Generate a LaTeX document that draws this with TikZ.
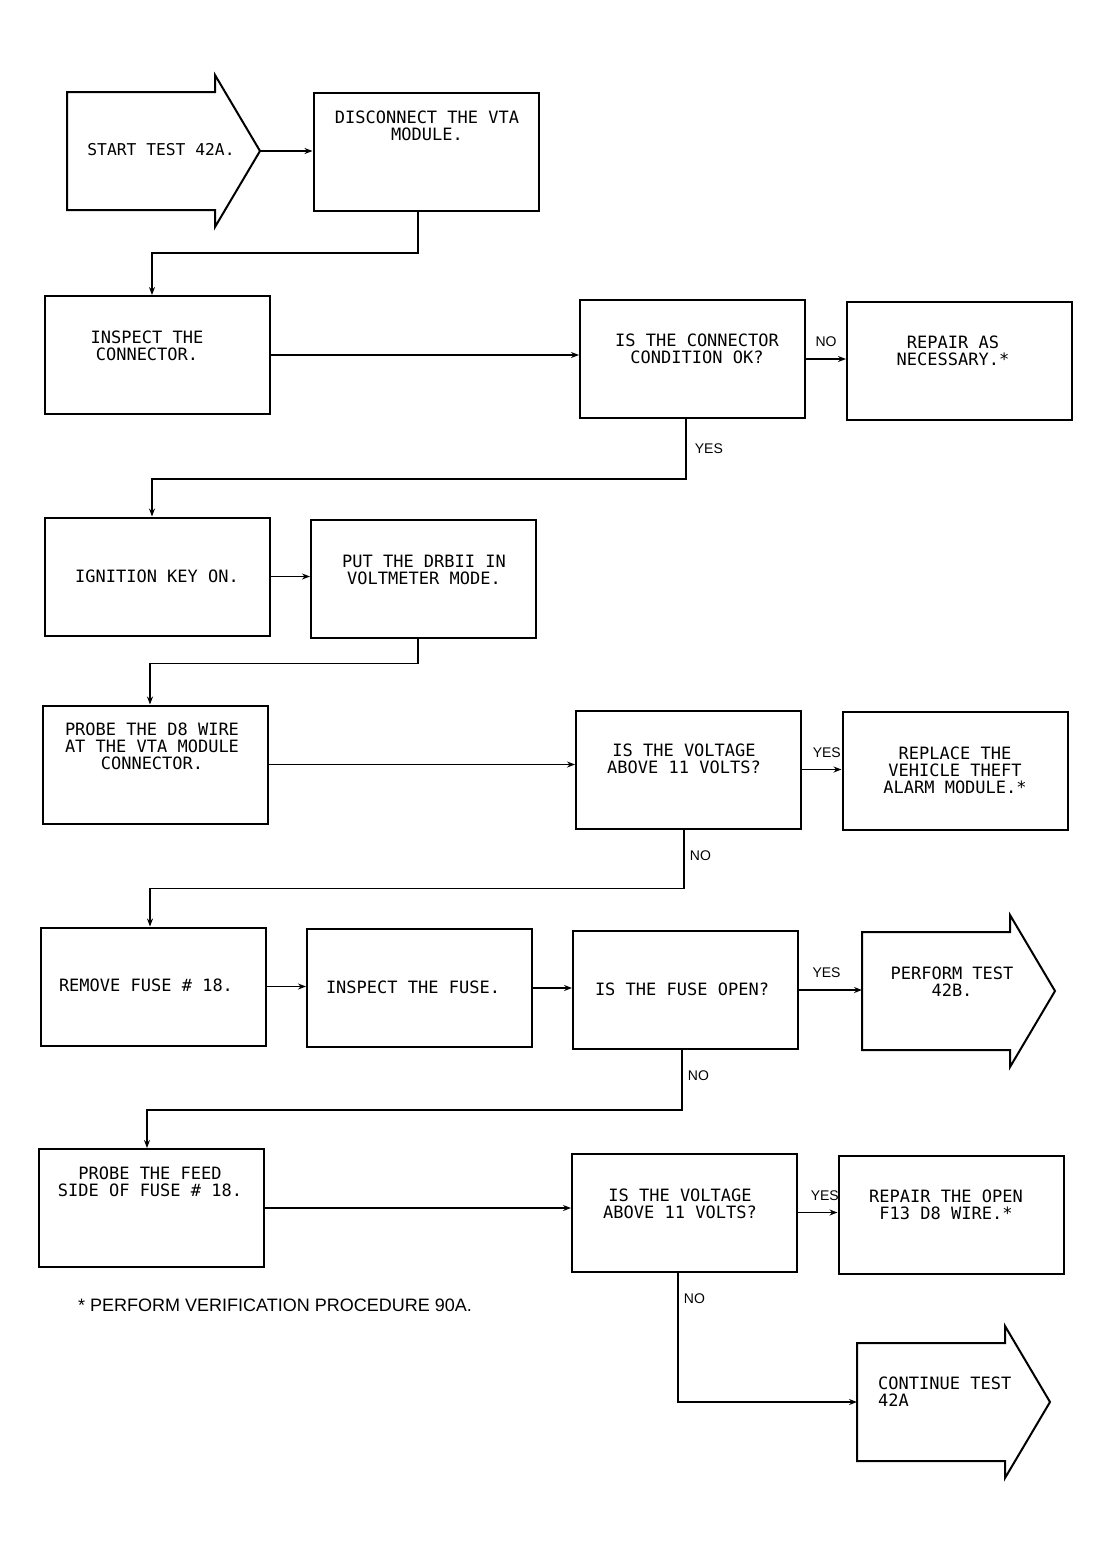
\documentclass[tikz,border=0pt]{standalone}
\usepackage{fontspec}
\setmainfont{Liberation Sans}
\setmonofont{DejaVu Sans Mono}
\usetikzlibrary{arrows.meta}

\begin{document}
\begin{tikzpicture}[x=1pt,y=-1pt,
		box/.style={draw,line width=2pt,minimum width=225pt,minimum height=118pt},
		txt/.style={font=\fontsize{17}{17}\ttfamily,align=center,inner sep=0pt},
		lbl/.style={font=\fontsize{14}{14}\selectfont,inner sep=0pt},
		conn/.style={line width=1.8pt,-{Stealth[length=8pt,width=6pt]}},
		bigarrow/.style={draw,line width=2pt,line join=miter}]
			\useasboundingbox (0,0) rectangle (1110,1555);
			%Big arrows
			\foreach \n/\x/\y in {start/67/151,perf/862/991,cont/857/1402}
				{
					\draw[bigarrow] (\x,\y-59) -- ++(148,0) -- ++(0,-17) -- (\x+193,\y) -- (\x+148,\y+76) -- ++(0,-17) -- (\x,\y+59) -- cycle;
					\coordinate (\n-in) at (\x,\y);
					\coordinate (\n-tip) at (\x+193,\y);
				}
			\node[txt,font=\fontsize{16.3}{17}\ttfamily] (start-t) at (161,150) {START TEST 42A.};
			\node[txt] (perf-t) at (952,982) {PERFORM TEST\\42B.};
			\node[txt,align=left,anchor=west] (cont-t) at (878,1392) {CONTINUE TEST\\42A};
			%Boxes
			\node[box] (dis) at (426,152) {};
			\node[box] (insp) at (157.5,355) {};
			\node[box] (cond) at (692.5,359) {};
			\node[box] (rep) at (959.5,361) {};
			\node[box] (ign) at (157,576.5) {};
			\node[box] (drb) at (423.5,578.5) {};
			\node[box] (prb) at (155.5,764.5) {};
			\node[box] (volta) at (688.5,769.5) {};
			\node[box] (repl) at (955,770.5) {};
			\node[box] (rem) at (153.5,986.5) {};
			\node[box] (insf) at (419.5,988) {};
			\node[box] (open) at (685.5,990) {};
			\node[box] (feed) at (151,1208) {};
			\node[box] (voltb) at (684.5,1212.5) {};
			\node[box] (ropen) at (951,1214.5) {};
			%Box texts
			\node[txt] (dis-t) at (427,126) {DISCONNECT THE VTA\\MODULE.};
			\node[txt] (insp-t) at (147,346) {INSPECT THE\\CONNECTOR.};
			\node[txt] (cond-t) at (697,349) {IS THE CONNECTOR\\CONDITION OK?};
			\node[txt] (rep-t) at (953,351) {REPAIR AS\\NECESSARY.*};
			\node[txt] (ign-t) at (157,576) {IGNITION KEY ON.};
			\node[txt] (drb-t) at (424,570) {PUT THE DRBII IN\\VOLTMETER MODE.};
			\node[txt] (prb-t) at (152,746) {PROBE THE D8 WIRE\\AT THE VTA MODULE\\CONNECTOR.};
			\node[txt] (volta-t) at (684,759) {IS THE VOLTAGE\\ABOVE 11 VOLTS?};
			\node[txt] (repl-t) at (955,770) {REPLACE THE\\VEHICLE THEFT\\ALARM MODULE.*};
			\node[txt] (rem-t) at (146,985) {REMOVE FUSE \# 18.};
			\node[txt] (insf-t) at (413,987) {INSPECT THE FUSE.};
			\node[txt] (open-t) at (682,989) {IS THE FUSE OPEN?};
			\node[txt] (feed-t) at (150,1182) {PROBE THE FEED\\SIDE OF FUSE \# 18.};
			\node[txt] (voltb-t) at (680,1204) {IS THE VOLTAGE\\ABOVE 11 VOLTS?};
			\node[txt] (ropen-t) at (946,1205) {REPAIR THE OPEN\\F13 D8 WIRE.*};
			%Connectors
			\draw[conn] (start-tip) -- (start-tip -| dis.west);
			\draw[conn] ([xshift=-8pt]dis.south) -- ++(0,41) -| ([xshift=-5.5pt]insp.north);
			\draw[conn] (insp.east) -- (insp.east -| cond.west);
			\draw[conn] (cond.east) -- node[lbl,above=11pt] (no-a) {NO} (cond.east -| rep.west);
			\draw[conn] ([xshift=-6.5pt]cond.south) -- node[lbl,right=8pt] (yes-a) {YES} ++(0,60) -| ([xshift=-5pt]ign.north);
			\draw[conn] (ign.east) -- (ign.east -| drb.west);
			\draw[conn] ([xshift=-5.5pt]drb.south) -- ++(0,25) -| ([xshift=-5.5pt]prb.north);
			\draw[conn] (prb.east) -- (prb.east -| volta.west);
			\draw[conn] (volta.east) -- node[lbl,above=11pt,xshift=5pt] (yes-b) {YES} (volta.east -| repl.west);
			\draw[conn] ([xshift=-4.5pt]volta.south) -- node[lbl,right=5pt,yshift=3pt] (no-b) {NO} ++(0,59) -| ([xshift=-3.5pt]rem.north);
			\draw[conn] (rem.east) -- (rem.east -| insf.west);
			\draw[conn] (insf.east) -- (insf.east -| open.west);
			\draw[conn] (open.east) -- node[lbl,above=11pt,xshift=-4pt] (yes-c) {YES} (open.east -| perf-in);
			\draw[conn] ([xshift=-3.5pt]open.south) -- node[lbl,right=5pt,yshift=4pt] (no-c) {NO} ++(0,60) -| ([xshift=-4pt]feed.north);
			\draw[conn] (feed.east) -- (feed.east -| voltb.west);
			\draw[conn] (voltb.east) -- node[lbl,above=11pt,xshift=7pt] (yes-d) {YES} (voltb.east -| ropen.west);
			\draw[conn] ([xshift=-6.5pt]voltb.south) |- node[lbl,pos=0.1,right=5pt] (no-d) {NO} (cont-in);
			%Footnote
			\node[anchor=west,inner sep=0pt,font=\fontsize{18}{18}\selectfont] (note) at (78,1305) {* PERFORM VERIFICATION PROCEDURE 90A.};
		\end{tikzpicture}
\end{document}
